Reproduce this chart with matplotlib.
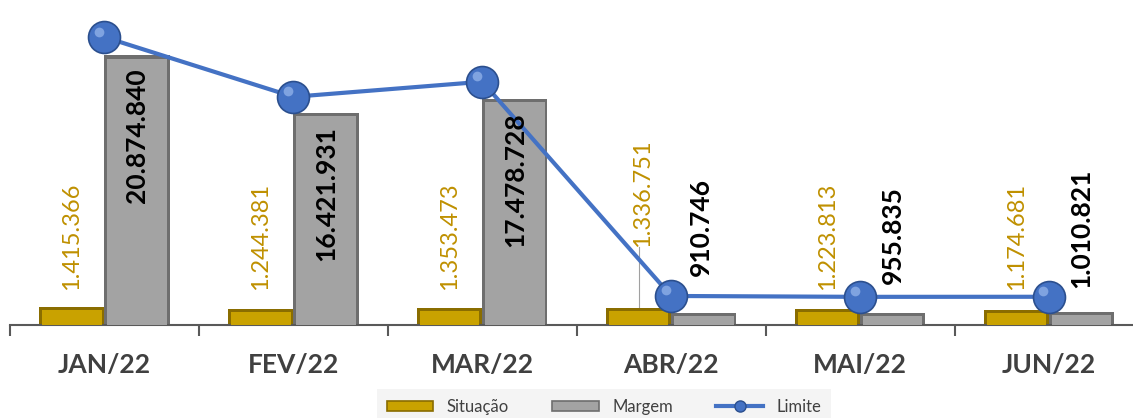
import matplotlib
matplotlib.use("Agg")
import matplotlib.pyplot as plt
from matplotlib.patches import Patch
from matplotlib.lines import Line2D
import matplotlib.transforms as mtransforms

months = ["JAN/22", "FEV/22", "MAR/22", "ABR/22", "MAI/22", "JUN/22"]
situacao = [1415366, 1244381, 1353473, 1336751, 1223813, 1174681]
margem = [20874840, 16421931, 17478728, 910746, 955835, 1010821]
limite = [s + m for s, m in zip(situacao, margem)]


def fmt(v):
    return f"{v:,}".replace(",", ".")


plt.rcParams["font.family"] = ["Lato", "DejaVu Sans"]

gold, gold_dark = "#C9A200", "#8A6D00"
grey, grey_dark = "#A3A3A3", "#6E6E6E"
blue, blue_dark = "#4472C4", "#2B4F8E"
gold_text = "#BF9000"

fig = plt.figure(figsize=(11.33, 4.18), dpi=100)
ax = fig.add_axes([10 / 1133, 93 / 418, 1133.5 / 1133, 310 / 418])

x = list(range(len(months)))
w = 0.345
xs = [i - w / 2 for i in x]
xm = [i + w / 2 for i in x]

# outer (darker) bars, then inset bars to fake the bevel
ax.bar(xs, situacao, w, color=gold_dark, zorder=2)
ax.bar(xm, margem, w, color=grey_dark, zorder=2)
ax.bar(xs, [v - 250000 for v in situacao], w - 0.03, color=gold, zorder=3)
ax.bar(xm, [v - 250000 for v in margem], w - 0.03, color=grey, zorder=3)

ax.plot(x, limite, color=blue, lw=3, marker="o", ms=23, mfc=blue,
        mec=blue_dark, mew=1.2, zorder=5)
# small highlight on the spheres
hl = ax.transData + mtransforms.ScaledTranslation(-4 / 72, 4 / 72, fig.dpi_scale_trans)
ax.plot(x, limite, ls="none", marker="o", ms=7, mfc="#8FB0E8", mec="none",
        alpha=0.8, transform=hl, zorder=6)

# value labels
gold_dx = [0, 0, 0, 0.02, 0, 0]
gold_y = [2.7e6, 2.7e6, 2.7e6, 6.05e6, 2.7e6, 2.7e6]
for i, v in enumerate(situacao):
    ax.text(xs[i] + gold_dx[i], gold_y[i], fmt(v), rotation=90, ha="center",
            va="bottom", color=gold_text, fontsize=17, zorder=6)
ax.plot([xs[3]] * 2, [situacao[3], gold_y[3]], color="#A0A0A0",
        lw=0.8, zorder=1)

marg_dx = [0, 0, 0, -0.016, 0, 0]
marg_y = [None, None, None, 3.8e6, 3.18e6, 2.87e6]
for i, v in enumerate(margem):
    if v > 5e6:
        ax.text(xm[i] + marg_dx[i], v - 1.0e6, fmt(v), rotation=90, ha="center",
                va="top", color="black", fontsize=19, fontweight="bold", zorder=6)
    else:
        ax.text(xm[i] + marg_dx[i], marg_y[i], fmt(v), rotation=90,
                ha="center", va="bottom", color="black", fontsize=19,
                fontweight="bold", zorder=6)

ax.set_xlim(-0.5, 5.5)
ax.set_ylim(0, 24e6)
for s in ["top", "right", "left"]:
    ax.spines[s].set_visible(False)
ax.spines["bottom"].set_color("#595959")
ax.spines["bottom"].set_linewidth(1.5)
ax.set_yticks([])
ax.set_xticks(x)
ax.set_xticklabels(months, fontsize=19, fontweight="bold", color="#404040")
ax.tick_params(axis="x", which="major", length=0, pad=20)
ax.set_xticks([i + 0.5 for i in range(-1, 6)], minor=True)
ax.tick_params(axis="x", which="minor", length=8, width=1.5, color="#595959")

handles = [
    Patch(facecolor=gold, edgecolor=gold_dark, lw=1.2),
    Patch(facecolor=grey, edgecolor=grey_dark, lw=1.2),
    Line2D([], [], color=blue, lw=3, marker="o", ms=8, mfc=blue, mec=blue_dark),
]
leg = fig.legend(handles, ["Situação", "Margem", "Limite"], loc="center",
                 bbox_to_anchor=(604 / 1133, 1 - 407 / 418), ncol=3,
                 fontsize=12, frameon=True, fancybox=False, borderpad=0.6,
                 columnspacing=2.6, handlelength=2.8, handleheight=0.6)
leg.get_frame().set_facecolor("#F2F2F2")
leg.get_frame().set_edgecolor("none")
for t in leg.get_texts():
    t.set_color("#404040")

fig.savefig("out.png", dpi=100)
